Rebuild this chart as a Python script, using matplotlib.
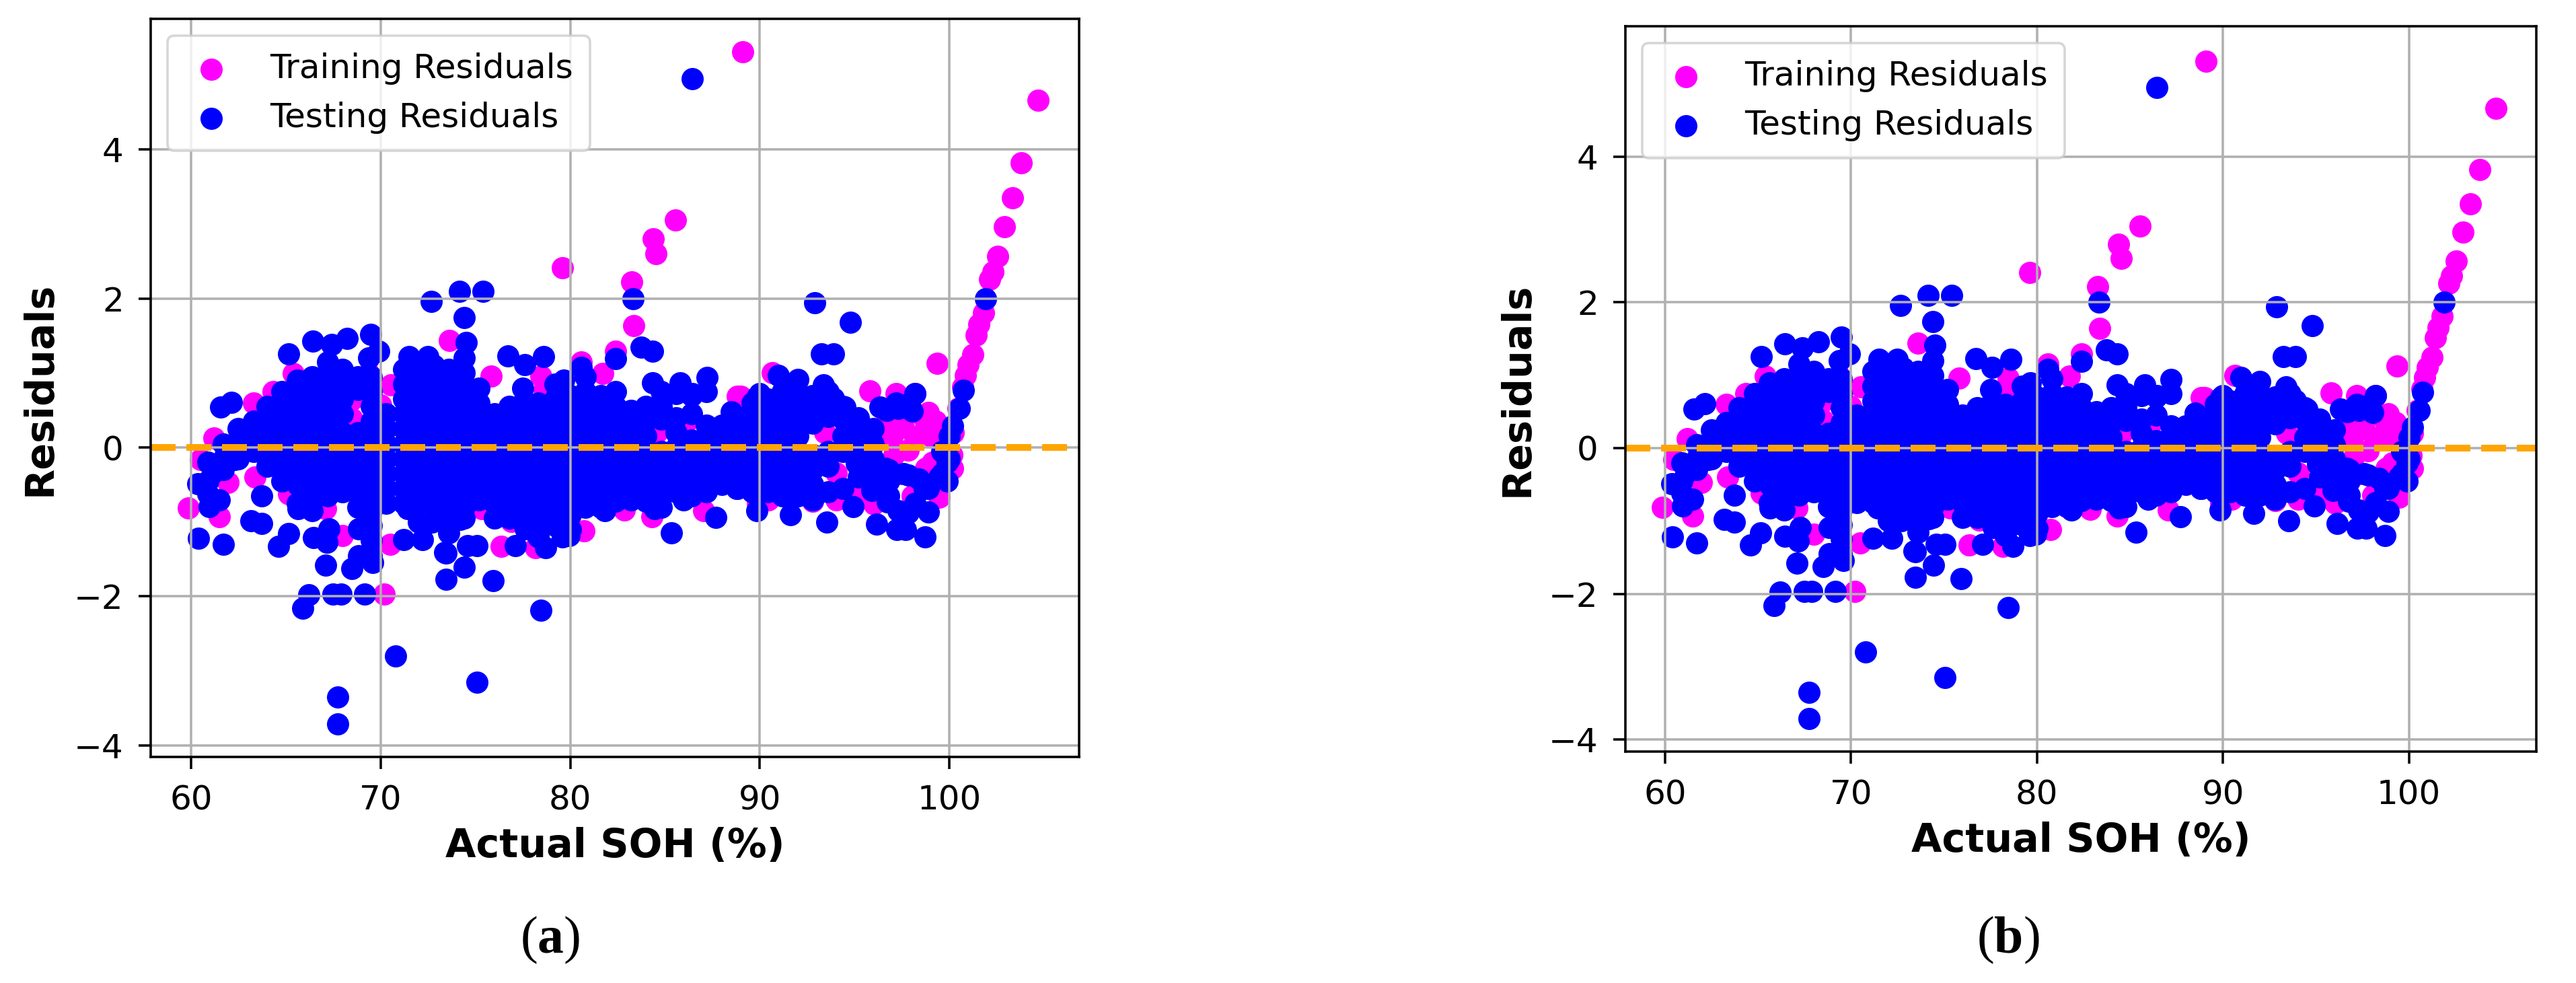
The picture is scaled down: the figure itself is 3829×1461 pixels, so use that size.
import matplotlib
matplotlib.use('Agg')
import matplotlib.pyplot as plt

plt.rcParams['mathtext.fontset'] = 'custom'
plt.rcParams['mathtext.bf'] = 'Liberation Serif:bold'
plt.rcParams['mathtext.rm'] = 'Liberation Serif'

# Points that stand out from the cloud, read one by one
train_x = [89.1, 104.68, 103.8, 103.32, 102.92, 102.56, 102.29, 102.13, 101.8, 101.57, 101.41, 101.25, 101.0, 100.86,
           100.7, 100.46, 100.2, 100.19, 100.13, 85.54, 79.6, 84.38, 84.52, 83.26, 83.36, 99.36, 70.2, 59.85,
           63.3, 64.33, 61.2, 60.49, 65.4, 70.54, 73.62, 70.49, 68.47, 68.47, 63.38, 61.96, 61.5, 65.16, 67.11, 68.0,
           71.73, 66.6, 70.0, 69.36, 75.82, 78.65, 78.47, 74.75, 79.78, 75.34, 76.88, 76.35, 78.18, 80.72, 82.85,
           84.3, 87.05, 81.73, 80.6, 82.38, 88.82, 84.56, 86.2, 89.0, 90.65, 90.47, 93.44, 94.03, 94.03, 96.04,
           95.8, 97.2, 98.2, 98.9, 98.77, 97.58, 96.99, 98.18, 99.12, 97.1, 97.82, 98.77, 98.06, 99.48, 96.6,
           97.3, 98.0, 98.6, 99.3, 99.6, 97.3, 98.4, 99.1, 95.3, 89.9, 92.8]
train_y = [5.31, 4.66, 3.82, 3.35, 2.96, 2.57, 2.36, 2.26, 1.81, 1.65, 1.51, 1.25, 1.11, 0.97,
           0.81, 0.52, 0.2, -0.28, -0.1, 3.05, 2.41, 2.8, 2.6, 2.22, 1.64, 1.13, -1.97, -0.81,
           0.6, 0.75, 0.13, -0.16, 0.99, 0.84, 1.44, -1.3, 0.64, 0.39, -0.4, -0.47, -0.93, -0.62, -0.82, -1.18,
           -0.79, -0.16, 0.57, 0.99, 0.96, 0.78, 0.96, 0.42, 0.28, -0.82, -0.99, -1.33, -1.35, -1.12, -0.84,
           -0.93, -0.85, 0.99, 1.15, 1.29, 0.69, 0.2, 0.36, 0.69, 1.0, -0.7, 0.2, -0.34, -0.7, -0.76,
           0.76, 0.72, 0.72, 0.47, 0.27, 0.27, 0.14, 0.14, 0.14, -0.1, -0.04, -0.28, -0.65, -0.67, 0.3,
           0.45, 0.5, 0.42, 0.35, 0.05, -0.35, -0.45, -0.2, -0.6, -0.75, -0.72]

test_x = [86.43, 101.9, 65.16, 66.44, 67.4, 68.24, 69.48, 69.9, 69.36, 71.49, 72.5, 72.67, 74.15, 74.4, 74.5, 75.4,
          62.14, 61.55, 76.7, 78.59, 77.6, 79.66, 80.6, 82.38, 83.73, 84.33, 83.32, 84.33, 85.8, 87.22, 86.45,
          88.5, 89.88, 92.9, 94.8, 93.26, 93.91, 90.97, 92.0, 93.38, 90.0, 93.9, 94.5, 96.34, 97.2, 98.2, 98.05,
          100.75, 100.54, 100.19, 100.0,
          60.4, 61.7, 63.73, 63.17, 63.73, 64.6, 65.13, 65.88, 66.2, 67.5, 67.9, 69.15, 70.8, 75.07, 67.73, 67.73,
          73.45, 74.42, 75.93, 78.46, 75.07, 73.45, 69.6, 67.1, 68.5, 60.96, 61.49, 60.37, 61.14, 62.32,
          65.63, 66.46, 67.17, 67.29, 68.83, 68.83, 69.42, 71.2, 72.2, 73.38, 74.2, 74.6, 71.43, 72.7,
          76.05, 77.09, 78.71, 77.65, 79.6, 79.95, 79.0, 81.84, 84.44, 85.33, 85.98, 87.7, 88.82, 89.86,
          91.64, 93.53, 92.78, 94.92, 96.16, 97.23, 97.7, 98.72, 98.89, 97.82, 96.75, 95.92, 98.89, 99.48,
          97.82, 96.64, 95.1, 99.6, 99.9, 99.6, 99.9, 100.0,
          96.8, 97.3, 98.2, 98.7, 97.3, 97.9, 96.7]
test_y = [4.95, 2.0, 1.26, 1.43, 1.38, 1.46, 1.52, 1.29, 1.2, 1.22, 1.22, 1.96, 2.1, 1.74, 1.41, 2.1,
          0.61, 0.54, 1.23, 1.22, 1.11, 0.9, 1.08, 1.19, 1.35, 1.29, 2.0, 0.87, 0.87, 0.94, 0.72,
          0.48, 0.69, 1.94, 1.68, 1.26, 1.26, 0.97, 0.91, 0.84, 0.72, 0.66, 0.54, 0.54, 0.6, 0.72, 0.49,
          0.77, 0.52, 0.29, 0.15,
          -1.22, -1.3, -0.65, -0.98, -1.02, -1.33, -1.16, -2.16, -1.98, -1.97, -1.97, -1.97, -2.8, -3.15, -3.35, -3.71,
          -1.77, -1.61, -1.79, -2.19, -1.32, -1.42, -1.54, -1.58, -1.63, -0.79, -0.7, -0.49, -0.34, -0.16,
          -0.82, -1.21, -1.27, -1.09, -1.09, -1.45, -1.0, -1.24, -1.24, -1.41, -0.97, -1.32, -0.82, -1.0,
          -0.94, -1.32, -1.35, -1.09, -1.2, -1.18, -1.03, -0.85, -0.82, -1.15, -0.7, -0.94, -0.55, -0.85,
          -0.9, -1.0, -0.7, -0.79, -1.03, -1.1, -1.1, -1.2, -0.87, -0.88, -0.73, -0.58, -0.55, -0.4,
          -0.37, -0.28, -0.22, -0.05, -0.2, -0.35, -0.45, -0.15,
          -0.65, -0.85, -0.75, -0.55, 0.52, 0.6, 0.5]

# Dense part of the cloud: one x with the residuals stacked above it
cloud_x = [60.9, 61.7, 62.5, 63.3, 64.0, 64.8, 65.6, 66.4, 67.2, 68.0, 68.8, 69.5, 70.3, 71.2, 72.0, 72.8,
           73.6, 74.4, 75.2, 76.0, 76.8, 77.5, 78.3, 79.2, 80.0, 80.8, 81.6, 82.4, 83.2, 84.0, 84.8, 85.6,
           86.4, 87.2, 88.0, 88.8, 89.6, 90.4, 91.2, 92.0, 92.8, 93.6, 94.4, 95.2, 96.0, 96.8, 97.6, 98.4]
cloud_y = [
    [-0.2, -0.45, -0.62],
    [0.05, -0.15, -0.3],
    [0.25, 0.05, -0.15],
    [0.35, 0.15, -0.05],
    [0.55, 0.35, 0.15, -0.05, -0.25],
    [0.75, 0.55, 0.35, 0.15, -0.05, -0.25, -0.45],
    [0.9, 0.7, 0.5, 0.3, 0.1, -0.1, -0.3, -0.5, -0.75],
    [0.95, 0.75, 0.55, 0.35, 0.15, -0.05, -0.25, -0.45, -0.65, -0.85],
    [1.15, 0.95, 0.75, 0.55, 0.35, 0.15, -0.05, -0.25, -0.45, -0.65],
    [1.05, 0.85, 0.65, 0.45, 0.2, 0.0, -0.2, -0.4, -0.6],
    [0.95, 0.78, 0.2, 0.0, -0.2, -0.4, -0.6, -0.8],
    [0.95, 0.75, 0.55, 0.35, 0.15, -0.05, -0.25, -0.45, -0.65, -0.85, -1.05, -1.25, -1.45],
    [0.45, 0.25, 0.05, -0.15, -0.35, -0.55, -0.75],
    [1.05, 0.85, 0.65, 0.45, 0.25, 0.05, -0.15, -0.35, -0.55, -0.75],
    [1.05, 0.85, 0.65, 0.45, 0.25, 0.05, -0.15, -0.35, -0.55, -0.75, -1.0],
    [1.1, 0.9, 0.7, 0.5, 0.3, 0.1, -0.1, -0.3, -0.5, -0.7, -0.95],
    [1.05, 0.85, 0.65, 0.45, 0.25, 0.05, -0.15, -0.35, -0.55, -0.75, -0.95, -1.15],
    [1.2, 1.0, 0.8, 0.6, 0.4, 0.2, 0.0, -0.2, -0.4, -0.6, -0.8, -0.95],
    [0.8, 0.6, 0.4, 0.2, 0.0, -0.2, -0.4, -0.6, -0.7],
    [0.45, 0.25, 0.05, -0.15, -0.35, -0.55, -0.75, -0.95],
    [0.55, 0.35, 0.15, -0.05, -0.25, -0.45, -0.65, -0.85, -0.95],
    [0.8, 0.6, 0.4, 0.2, 0.0, -0.2, -0.4, -0.6, -0.8, -1.0],
    [0.6, 0.4, 0.2, 0.0, -0.2, -0.4, -0.6, -0.8, -1.0, -1.2],
    [0.85, 0.65, 0.45, 0.25, 0.05, -0.15, -0.35, -0.55, -0.75, -0.95, -1.05],
    [0.7, 0.5, 0.3, 0.1, -0.1, -0.3, -0.5, -0.7, -0.9, -1.1],
    [0.95, 0.75, 0.55, 0.35, 0.15, -0.05, -0.25, -0.45, -0.65, -0.8],
    [0.7, 0.5, 0.3, 0.1, -0.1, -0.3, -0.5, -0.7, -0.8],
    [0.75, 0.55, 0.35, 0.15, -0.05, -0.25, -0.45, -0.65, -0.72],
    [0.5, 0.3, 0.1, -0.1, -0.3, -0.5, -0.7],
    [0.55, 0.35, 0.15, -0.05, -0.25, -0.45, -0.65, -0.72],
    [0.75, 0.55, 0.38, -0.05, -0.25, -0.45, -0.65, -0.8],
    [0.72, 0.4, 0.2, 0.0, -0.2, -0.4, -0.6],
    [0.7, 0.45, 0.1, -0.1, -0.3, -0.5, -0.65],
    [0.75, 0.3, 0.1, -0.1, -0.3, -0.5, -0.6],
    [0.3, 0.1, -0.1, -0.3, -0.5],
    [0.42, 0.25, 0.05, -0.15, -0.35, -0.55],
    [0.6, 0.4, 0.2, 0.0, -0.2, -0.4, -0.6],
    [0.65, 0.45, 0.25, 0.05, -0.15, -0.35, -0.6],
    [0.75, 0.55, 0.35, 0.15, -0.05, -0.25, -0.45, -0.65],
    [0.75, 0.55, 0.35, 0.15, -0.05, -0.25, -0.45, -0.65],
    [0.7, 0.5, 0.33, -0.1, -0.3, -0.5, -0.7],
    [0.75, 0.55, 0.42, -0.05, -0.25, -0.6],
    [0.55, 0.38, 0.15, -0.05, -0.55],
    [0.4, 0.2, 0.0, -0.2, -0.4],
    [0.25, 0.05, -0.15, -0.35, -0.55],
    [-0.3, -0.45],
    [-0.35],
    [-0.42],
]

x_ticks = [60, 70, 80, 90, 100]
y_ticks = [-4, -2, 0, 2, 4]
panel_labels = ['a', 'b']

# panel geometry in pixels: left, top, right, bottom of the axes frame
frames = [(224, 28, 1604, 1125), (2416, 39, 3770, 1117)]
y_limits = [(-4.155, 5.755), (-4.165, 5.79)]
label_x = [818, 2985]
ylabel_x = [88, 2284]

W, H = 3830, 1461
fig = plt.figure(figsize=(W / 100, H / 100), dpi=100)

# expand the stacked columns into flat point lists
all_test_x = list(test_x)
all_test_y = list(test_y)
for cx, ys in zip(cloud_x, cloud_y):
    for cy in ys:
        all_test_x.append(cx)
        all_test_y.append(cy)

for i in range(2):
    l, t, r, b = frames[i]
    ax = fig.add_axes([l / W, 1 - b / H, (r - l) / W, (b - t) / H])
    ax.scatter(train_x, train_y, s=565, color='magenta', linewidths=0, label='Training Residuals')
    ax.scatter(all_test_x, all_test_y, s=565, color='blue', linewidths=0, label='Testing Residuals')
    ax.axhline(0, color='orange', linestyle='--', linewidth=7.2)
    ax.set_xlim(57.87, 106.85)
    ax.set_ylim(*y_limits[i])
    ax.set_xticks(x_ticks)
    ax.set_yticks(y_ticks)
    ax.tick_params(labelsize=36, length=13, width=2.56, pad=16)
    ax.grid(True, linewidth=2.56)
    for side in ax.spines.values():
        side.set_linewidth(2.56)
    ax.set_xlabel('Actual SOH (%)', fontsize=42.3, fontweight='bold', labelpad=11)
    ax.set_ylabel('Residuals', fontsize=42.3, fontweight='bold')
    ax.yaxis.set_label_coords((ylabel_x[i] - l) / (r - l), 0.5 - 1 / (b - t))
    leg = ax.legend(loc='upper left', fontsize=36, borderpad=0.5, handlelength=1.6, handletextpad=0.95)
    leg.get_frame().set_linewidth(2.56)
    fig.text(label_x[i] / W, 1 - 1397 / H, r'($\mathbf{%s}$)' % panel_labels[i], family='Liberation Serif',
             fontsize=56, ha='center', va='center')

plt.savefig('out.png', dpi=100)
